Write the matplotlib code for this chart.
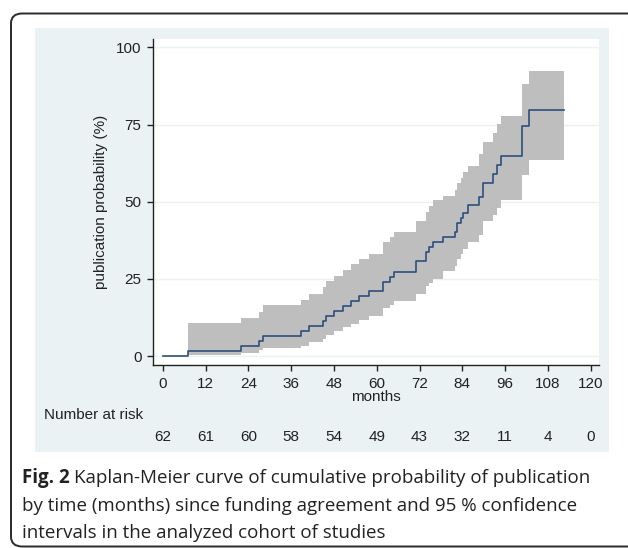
import matplotlib
matplotlib.use("Agg")
import matplotlib.pyplot as plt
from matplotlib.patches import Rectangle, FancyBboxPatch
from matplotlib.transforms import blended_transform_factory

# ---- data ----
times = [0, 7.2, 21.9, 27.0, 28.0, 38.9, 41.0, 44.9, 45.7, 48.0,
         50.6, 52.8, 54.9, 57.8, 61.8, 63.7, 64.9, 70.9, 73.8, 74.7,
         75.7, 78.7, 81.9, 82.6, 83.5, 84.3, 85.5, 88.8, 89.7, 92.7,
         93.6, 94.8, 100.7, 102.6]
est = [0, 1.6, 3.2, 4.8, 6.5, 8.1, 9.7, 11.3, 12.9, 14.5,
       16.2, 17.8, 19.4, 21.0, 24.1, 25.7, 27.3, 30.9, 33.8, 35.4,
       36.9, 38.5, 40.3, 43.2, 44.8, 46.4, 48.9, 51.6, 56.2, 59.0,
       61.9, 64.8, 74.6, 79.7]
lower = [0, 0.3, 1.0, 1.9, 2.5, 3.2, 4.4, 5.6, 6.8, 8.0,
         9.3, 10.5, 11.8, 13.1, 15.5, 16.6, 17.9, 20.2, 22.6, 23.7,
         25.1, 27.5, 29.3, 31.5, 33.0, 34.6, 36.8, 39.2, 43.6, 45.7,
         47.9, 50.5, 58.7, 63.5]
upper = [0, 10.8, 12.4, 14.3, 16.4, 18.3, 20.2, 22.4, 24.2, 26.0,
         27.9, 29.8, 31.4, 33.1, 37.0, 38.7, 40.3, 43.8, 46.8, 48.6,
         50.4, 51.8, 53.8, 56.0, 57.6, 59.5, 61.6, 65.3, 69.5, 72.3,
         75.2, 77.8, 88.3, 92.4]
end_time = 112.5

x_ticks = [0, 12, 24, 36, 48, 60, 72, 84, 96, 108, 120]
y_ticks = [0, 25, 50, 75, 100]
at_risk = [62, 61, 60, 58, 54, 49, 43, 32, 11, 4, 0]

caption_bold = "Fig. 2"
caption_lines = [
    "Kaplan-Meier curve of cumulative probability of publication",
    "by time (months) since funding agreement and 95 % confidence",
    "intervals in the analyzed cohort of studies",
]

# ---- figure ----
W, H = 628, 548
fig = plt.figure(figsize=(W / 100, H / 100), dpi=100)
fig.patch.set_facecolor("white")


def fx(px):
    return px / W


def fy(py):
    return 1 - py / H


panel_col = "#EAF2F3"
txt_col = "#222222"
fs = 11
# outer rounded border
border = FancyBboxPatch((fx(11), fy(546.5)), fx(640) - fx(11), fy(13.5) - fy(546.5),
                        boxstyle="round,pad=0,rounding_size=0.018",
                        transform=fig.transFigure, facecolor="none",
                        edgecolor="#2a2a2a", linewidth=1.4, zorder=-2)
fig.patches.append(border)
# light panel
panel = Rectangle((fx(35), fy(452)), fx(608.5) - fx(35), fy(28) - fy(452),
                  transform=fig.transFigure, facecolor=panel_col,
                  edgecolor="none", zorder=-1)
fig.patches.append(panel)

ax_l, ax_r, ax_t, ax_b = 152.5, 599, 39, 365
ax = fig.add_axes([fx(ax_l), fy(ax_b), fx(ax_r) - fx(ax_l), fy(ax_t) - fy(ax_b)])
ax.set_zorder(1)
ax.set_facecolor("white")

x0_px, x_per = 162.7, 3.567
y0_px, y_per = 356.0, 3.086
ax.set_xlim((ax_l - x0_px) / x_per, (ax_r - x0_px) / x_per)
ax.set_ylim((y0_px - ax_b) / y_per, (y0_px - ax_t) / y_per)

tx = list(times) + [end_time]
te = list(est) + [est[-1]]
tl = list(lower) + [lower[-1]]
tu = list(upper) + [upper[-1]]

for yv in y_ticks:
    ax.axhline(yv, color=panel_col, linewidth=1.0, zorder=0.5)

ax.fill_between(tx, tl, tu, step="post", color="#BEBEBE", linewidth=0, zorder=1)
ax.step(tx, te, where="post", color="#2C4F7C", linewidth=1.2, zorder=2)

for s in ["top", "right"]:
    ax.spines[s].set_visible(False)
for s in ["left", "bottom"]:
    ax.spines[s].set_color(txt_col)
    ax.spines[s].set_linewidth(1.0)

ax.set_xticks(x_ticks)
ax.set_yticks(y_ticks)
ax.set_xticklabels([str(v) for v in x_ticks])
ax.set_yticklabels([str(v) for v in y_ticks])
ax.tick_params(axis="both", direction="out", length=4, width=1.0, color=txt_col,
               labelsize=fs, labelcolor=txt_col)
ax.tick_params(axis="x", pad=5)
ax.tick_params(axis="y", pad=4)
for lab in ax.get_xticklabels() + ax.get_yticklabels():
    lab.set_family("Liberation Sans")

ax.set_xlabel("months", fontsize=fs, family="Liberation Sans", color=txt_col, labelpad=-1)
ax.set_ylabel("publication probability (%)", fontsize=fs, family="Liberation Sans",
              color=txt_col, labelpad=6)

# number at risk
fig.text(fx(44), fy(415), "Number at risk", fontsize=fs, family="Liberation Sans",
         color=txt_col, ha="left", va="center")
trans = blended_transform_factory(ax.transData, fig.transFigure)
for xv, n in zip(x_ticks, at_risk):
    ax.text(xv, fy(437), str(n), transform=trans, ha="center", va="center",
            fontsize=fs, family="Liberation Sans", color=txt_col, clip_on=False)

# caption
cap_size = 13.5
cap_x = fx(22)
cap_ys = [478, 506, 533]
renderer = fig.canvas.get_renderer()
tb = fig.text(cap_x, fy(cap_ys[0]), caption_bold, fontsize=cap_size, family="Open Sans",
              weight="bold", color=txt_col, ha="left", va="center")
bb = tb.get_window_extent(renderer=renderer)
space_px = 4
fig.text(fx(bb.x1 + space_px), fy(cap_ys[0]), caption_lines[0], fontsize=cap_size,
         family="Open Sans", color=txt_col, ha="left", va="center")
for line, yy in zip(caption_lines[1:], cap_ys[1:]):
    fig.text(cap_x, fy(yy), line, fontsize=cap_size, family="Open Sans",
             color=txt_col, ha="left", va="center")

fig.savefig("out.png", dpi=100)
